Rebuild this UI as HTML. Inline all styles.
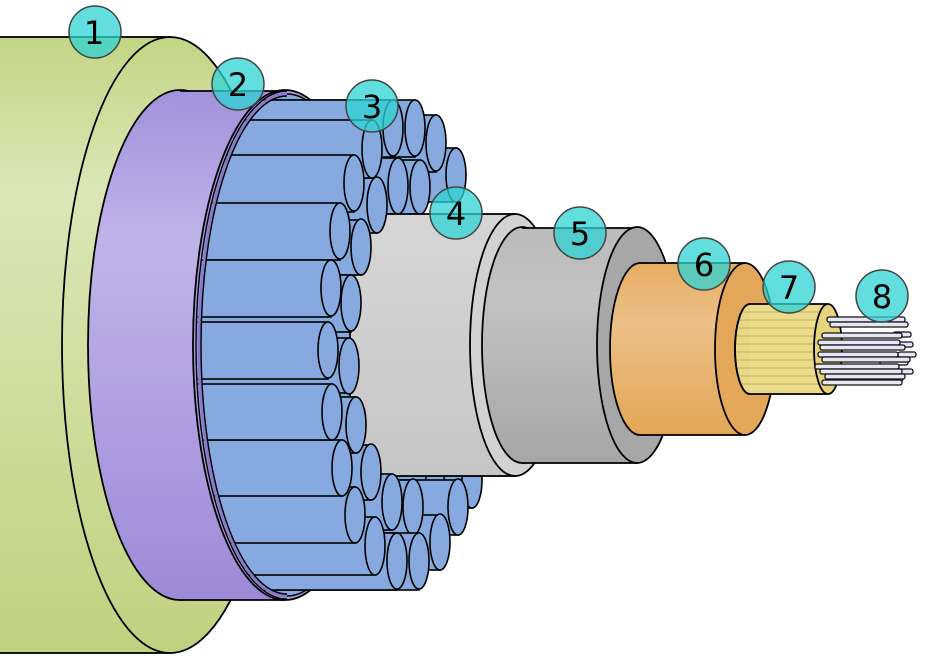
<!DOCTYPE html>
<html><head><meta charset="utf-8"><style>html,body{margin:0;padding:0;background:#fff}svg{display:block}</style></head>
<body>
<svg width="929" height="660" viewBox="0 0 929 660" xmlns="http://www.w3.org/2000/svg" font-family="Liberation Sans, DejaVu Sans, sans-serif">
<defs>
<linearGradient id="gG" x1="0" y1="0" x2="0" y2="1"><stop offset="0" stop-color="#c3d584"/><stop offset="0.25" stop-color="#dbe6b6"/><stop offset="1" stop-color="#bfd27f"/></linearGradient>
<linearGradient id="gP" x1="0" y1="0" x2="0" y2="1"><stop offset="0" stop-color="#a292dc"/><stop offset="0.3" stop-color="#c0b3e8"/><stop offset="1" stop-color="#9d8ad8"/></linearGradient>
<linearGradient id="gL" x1="0" y1="0" x2="0" y2="1"><stop offset="0" stop-color="#d6d6d6"/><stop offset="1" stop-color="#c6c6c6"/></linearGradient>
<linearGradient id="gD" x1="0" y1="0" x2="0" y2="1"><stop offset="0" stop-color="#bbbbbb"/><stop offset="0.3" stop-color="#c2c2c2"/><stop offset="1" stop-color="#a6a6a6"/></linearGradient>
<linearGradient id="gO" x1="0" y1="0" x2="0" y2="1"><stop offset="0" stop-color="#e6ad62"/><stop offset="0.35" stop-color="#ecc088"/><stop offset="1" stop-color="#e3a655"/></linearGradient>
<clipPath id="cp"><ellipse cx="285" cy="345" rx="88" ry="252"/><rect x="285" y="0" width="700" height="660"/></clipPath>
</defs>
<g stroke="#000" stroke-width="1.8">
<rect x="-5" y="37" width="175" height="616" fill="url(#gG)"/>
<ellipse cx="170" cy="345" rx="108" ry="308" fill="url(#gG)"/>
<ellipse cx="180" cy="345" rx="92" ry="255" fill="url(#gP)"/>
<rect x="180" y="91" width="105" height="509" fill="url(#gP)" stroke="none"/>
<line x1="180" y1="91" x2="285" y2="91"/><line x1="180" y1="600" x2="285" y2="600"/>
<ellipse cx="285" cy="345" rx="92" ry="255" fill="#a898dc"/>
<ellipse cx="287" cy="345" rx="88" ry="251" fill="#86aadf" stroke-width="1.4"/>
</g>
<g stroke="#000" stroke-width="1.6" fill="#86aadf" clip-path="url(#cp)">
<rect x="190" y="452" width="282" height="56"/><ellipse cx="472" cy="480" rx="10" ry="28"/>
<rect x="190" y="462" width="245" height="54"/><ellipse cx="435" cy="489" rx="10" ry="27"/>
<rect x="190" y="148" width="266" height="54"/><ellipse cx="456" cy="175" rx="10" ry="27"/>
<rect x="190" y="115" width="246" height="57"/><ellipse cx="436" cy="143" rx="10" ry="28"/>
<rect x="190" y="100" width="225" height="57"/><ellipse cx="415" cy="128" rx="10" ry="28"/>
<rect x="190" y="100" width="203" height="57"/><ellipse cx="393" cy="128" rx="10" ry="28"/>
<rect x="190" y="160" width="230" height="55"/><ellipse cx="420" cy="187" rx="10" ry="27"/>
<rect x="190" y="158" width="208" height="56"/><ellipse cx="398" cy="186" rx="10" ry="28"/>
</g>
<g stroke="#000" stroke-width="1.8">
<rect x="350" y="214" width="165" height="262" fill="url(#gL)"/>
</g>
<g stroke="#000" stroke-width="1.6" fill="#86aadf" clip-path="url(#cp)">
<rect x="190" y="480" width="268" height="55"/><ellipse cx="458" cy="507" rx="10" ry="28"/>
<rect x="190" y="515" width="250" height="55"/><ellipse cx="440" cy="542" rx="10" ry="28"/>
<rect x="190" y="480" width="223" height="55"/><ellipse cx="413" cy="507" rx="10" ry="28"/>
<rect x="190" y="474" width="202" height="56"/><ellipse cx="392" cy="502" rx="10" ry="28"/>
<rect x="190" y="533" width="229" height="57"/><ellipse cx="419" cy="561" rx="10" ry="28"/>
<rect x="190" y="533" width="207" height="57"/><ellipse cx="397" cy="561" rx="10" ry="28"/>
<rect x="190" y="178" width="187" height="55"/><ellipse cx="377" cy="205" rx="10" ry="28"/>
<rect x="190" y="120" width="182" height="58"/><ellipse cx="372" cy="149" rx="10" ry="29"/>
<rect x="190" y="445" width="181" height="55"/><ellipse cx="371" cy="472" rx="10" ry="28"/>
<rect x="190" y="517" width="185" height="58"/><ellipse cx="375" cy="546" rx="10" ry="29"/>
<rect x="190" y="220" width="171" height="55"/><ellipse cx="361" cy="247" rx="10" ry="28"/>
<rect x="190" y="397" width="166" height="56"/><ellipse cx="356" cy="425" rx="10" ry="28"/>
<rect x="190" y="487" width="165" height="56"/><ellipse cx="355" cy="515" rx="10" ry="28"/>
<rect x="190" y="155" width="164" height="57"/><ellipse cx="354" cy="183" rx="10" ry="28"/>
<rect x="190" y="275" width="161" height="57"/><ellipse cx="351" cy="303" rx="10" ry="28"/>
<rect x="190" y="338" width="159" height="55"/><ellipse cx="349" cy="366" rx="10" ry="28"/>
<rect x="190" y="440" width="152" height="56"/><ellipse cx="342" cy="468" rx="10" ry="28"/>
<rect x="190" y="203" width="150" height="57"/><ellipse cx="340" cy="231" rx="10" ry="28"/>
<rect x="190" y="384" width="142" height="56"/><ellipse cx="332" cy="412" rx="10" ry="28"/>
<rect x="190" y="260" width="141" height="57"/><ellipse cx="331" cy="288" rx="10" ry="28"/>
<rect x="190" y="322" width="138" height="57"/><ellipse cx="328" cy="350" rx="10" ry="28"/>
</g>
<g stroke="#000" stroke-width="1.4" fill="none">
<path d="M287 94 A88 251 0 0 0 287 596" stroke="#8a78c8" stroke-width="3"/>
<path d="M287 91 A91 254 0 0 0 287 599"/>
<path d="M287 96 A86 249 0 0 0 287 594"/>
</g>
<g stroke="#000" stroke-width="1.8">
<ellipse cx="515" cy="345" rx="45" ry="131" fill="#d2d2d2"/>
<ellipse cx="522" cy="345" rx="40" ry="118" fill="url(#gD)"/>
<rect x="522" y="228" width="115" height="235" fill="url(#gD)" stroke="none"/>
<line x1="522" y1="228" x2="637" y2="228"/><line x1="522" y1="463" x2="637" y2="463"/>
<ellipse cx="637" cy="345" rx="40" ry="118" fill="#a7a7a7"/>
<ellipse cx="640" cy="349" rx="30" ry="86" fill="url(#gO)"/>
<rect x="640" y="263" width="105" height="172" fill="url(#gO)" stroke="none"/>
<line x1="640" y1="263" x2="745" y2="263"/><line x1="640" y1="435" x2="745" y2="435"/>
<ellipse cx="745" cy="349" rx="30" ry="86" fill="#e4a759"/>
<ellipse cx="750" cy="349" rx="15" ry="45" fill="#e8d886"/>
<rect x="750" y="304" width="78" height="90" fill="#ebdd8c" stroke="none"/>
<g stroke="#c9b964" stroke-width="1.3">
<line x1="737" y1="312" x2="828" y2="312"/><line x1="736" y1="320" x2="828" y2="320"/><line x1="735" y1="328" x2="828" y2="328"/><line x1="735" y1="336" x2="828" y2="336"/><line x1="735" y1="344" x2="828" y2="344"/><line x1="735" y1="352" x2="828" y2="352"/><line x1="735" y1="360" x2="828" y2="360"/><line x1="735" y1="368" x2="828" y2="368"/><line x1="736" y1="376" x2="828" y2="376"/><line x1="737" y1="384" x2="828" y2="384"/>
</g>
<line x1="750" y1="304" x2="828" y2="304"/><line x1="750" y1="394" x2="828" y2="394"/>
<path d="M750 304 A15 45 0 0 0 750 394" fill="none"/>
<ellipse cx="828" cy="349" rx="14" ry="45" fill="#e6d47c"/>
</g>
<g stroke="#111" stroke-width="1.3" fill="#e6e6f6">
<rect x="893" y="332" width="18" height="5" rx="2"/><rect x="893" y="342" width="20" height="5" rx="2"/><rect x="898" y="352" width="18" height="5" rx="2"/><rect x="893" y="369" width="20" height="5" rx="2"/><rect x="880" y="360" width="28" height="5" rx="2"/><rect x="885" y="376" width="18" height="5" rx="2"/>
<rect x="827" y="317" width="78" height="5" rx="2"/>
<rect x="830" y="322" width="78" height="5" rx="2"/>
<rect x="822" y="333" width="80" height="5" rx="2"/>
<rect x="818" y="340" width="82" height="5" rx="2"/>
<rect x="820" y="345" width="85" height="5" rx="2"/>
<rect x="818" y="352" width="80" height="5" rx="2"/>
<rect x="822" y="357" width="88" height="5" rx="2"/>
<rect x="815" y="364" width="84" height="5" rx="2"/>
<rect x="820" y="369" width="82" height="5" rx="2"/>
<rect x="825" y="374" width="80" height="5" rx="2"/>
<rect x="822" y="380" width="80" height="5" rx="2"/>
</g>
<g fill="#2ed3d3" fill-opacity="0.75" stroke="#444" stroke-width="1.5">
<circle cx="95" cy="32" r="26"/><circle cx="238" cy="84" r="26"/><circle cx="372" cy="106" r="26"/><circle cx="456" cy="213" r="26"/><circle cx="580" cy="233" r="26"/><circle cx="704" cy="264" r="26"/><circle cx="789" cy="287" r="26"/><circle cx="882" cy="296" r="26"/>
</g>
<g font-size="32" text-anchor="middle" fill="#000" font-family="DejaVu Sans, sans-serif">
<text x="94" y="44">1</text><text x="238" y="96">2</text><text x="372" y="118">3</text><text x="456" y="225">4</text><text x="580" y="245">5</text><text x="704" y="276">6</text><text x="789" y="299">7</text><text x="882" y="308">8</text>
</g>
</svg>
</body></html>
